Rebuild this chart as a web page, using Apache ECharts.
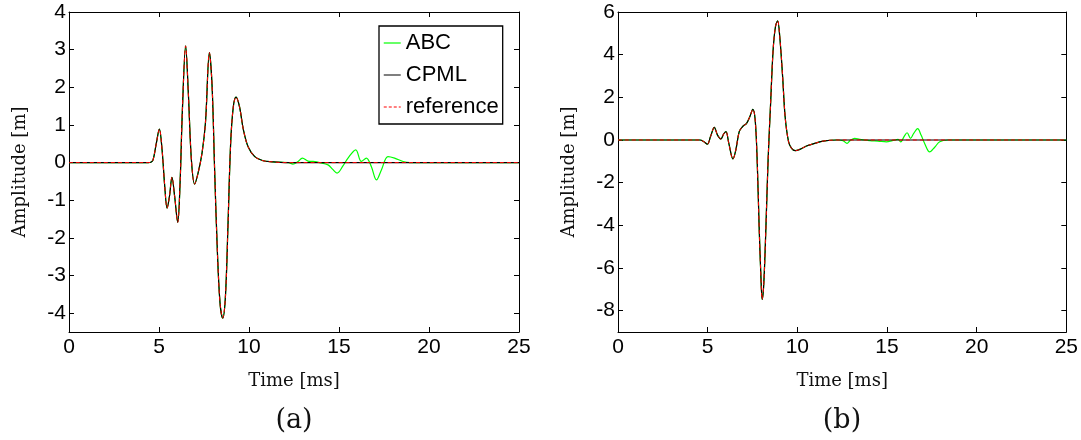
<!DOCTYPE html>
<html>
<head>
<meta charset="utf-8">
<script src="https://cdn.jsdelivr.net/npm/echarts@6/dist/echarts.min.js"></script>
<style>
html,body{margin:0;padding:0;background:#fff;}
#chart{width:1081px;height:440px;}
</style>
</head>
<body>
<div id="chart"></div>
<script>
// ---- Panel (a) ----
const tA = [0, 4.4, 4.55, 4.67, 4.85, 5.02, 5.17, 5.32, 5.45, 5.58, 5.72, 5.87, 6.04, 6.17, 6.30, 6.48, 6.63, 6.80, 6.98, 7.17, 7.39, 7.58, 7.80, 7.95, 8.09, 8.24, 8.39, 8.54, 8.69, 8.83, 8.98, 9.13, 9.28, 9.47, 9.69, 9.95, 10.32, 10.78, 11.3, 12, 25];
const cpmlA = [0, 0, 0.01, 0.07, 0.51, 0.89, 0.34, -0.64, -1.21, -0.90, -0.39, -0.90, -1.59, -0.55, 1.40, 3.10, 1.84, 0.07, -0.57, -0.28, 0.25, 1.05, 2.92, 2.02, -0.19, -2.32, -3.73, -4.13, -3.56, -1.70, 0.51, 1.49, 1.74, 1.49, 0.87, 0.42, 0.16, 0.05, 0.02, 0, 0];
const refA = [0, 0, 0.01, 0.07, 0.51, 0.89, 0.34, -0.64, -1.21, -0.90, -0.39, -0.90, -1.59, -0.55, 1.40, 3.10, 1.84, 0.07, -0.57, -0.28, 0.25, 1.05, 2.92, 2.02, -0.19, -2.32, -3.73, -4.13, -3.56, -1.70, 0.51, 1.49, 1.74, 1.49, 0.87, 0.42, 0.16, 0.05, 0.02, 0, 0];
const abcTailTA = [11.7, 12.2, 12.44, 12.7, 12.97, 13.28, 13.56, 13.93, 14.39, 14.65, 14.89, 15.22, 15.50, 15.93, 16.24, 16.52, 16.80, 17.08, 17.36, 17.72, 18.09, 18.56, 18.93, 25];
const abcTailA = [0.01, 0, -0.04, 0.02, 0.12, 0.04, 0.03, 0.0, -0.06, -0.18, -0.28, -0.09, 0.12, 0.34, 0.03, 0.12, -0.11, -0.46, -0.19, 0.16, 0.12, 0.03, 0, 0];
const yTicksA = [-4, -3, -2, -1, 0, 1, 2, 3, 4];

// ---- Panel (b) ----
const tB = [0, 4.57, 4.79, 4.98, 5.16, 5.37, 5.55, 5.74, 5.89, 6.02, 6.18, 6.41, 6.57, 6.76, 6.95, 7.17, 7.35, 7.52, 7.65, 7.76, 7.87, 7.97, 8.04, 8.13, 8.25, 8.37, 8.51, 8.65, 8.78, 8.90, 9.02, 9.18, 9.32, 9.51, 9.68, 9.88, 10.14, 10.51, 10.97, 11.44, 12.2, 25];
const cpmlB = [0, 0, -0.08, -0.20, 0.16, 0.59, 0.23, 0.05, 0.28, 0.39, -0.16, -0.89, -0.47, 0.39, 0.63, 0.78, 1.09, 1.44, 0.94, -0.94, -4.06, -6.41, -7.47, -6.72, -4.06, -0.94, 1.72, 4.22, 5.31, 5.59, 4.84, 2.97, 1.09, -0.08, -0.39, -0.50, -0.44, -0.28, -0.16, -0.05, 0, 0];
const refB = [0, 0, -0.08, -0.20, 0.16, 0.59, 0.23, 0.05, 0.28, 0.39, -0.16, -0.89, -0.47, 0.39, 0.63, 0.78, 1.09, 1.44, 0.94, -0.94, -4.06, -6.41, -7.47, -6.72, -4.06, -0.94, 1.72, 4.22, 5.31, 5.59, 4.84, 2.97, 1.09, -0.08, -0.39, -0.50, -0.44, -0.28, -0.16, -0.05, 0, 0];
const abcTailTB = [11.44, 12.2, 12.55, 12.77, 12.95, 13.20, 13.48, 14.04, 14.5, 14.97, 15.3, 15.62, 15.77, 15.95, 16.12, 16.31, 16.49, 16.71, 16.90, 17.10, 17.38, 17.66, 17.94, 18.4, 25];
const abcTailB = [-0.05, 0, -0.03, -0.16, -0.02, 0.08, 0.03, -0.03, -0.05, -0.09, -0.03, 0.03, -0.09, 0.16, 0.34, 0.08, 0.31, 0.53, 0.23, -0.16, -0.56, -0.34, -0.08, 0, 0];
const yTicksB = [-8, -6, -4, -2, 0, 2, 4, 6];

const seriesNames = ['ABC', 'CPML', 'reference'];
const panelLabels = ['(a)', '(b)'];
const xTitle = 'Time [ms]';
const yTitle = 'Amplitude [m]';

function pairs(t, v) { return t.map((x, i) => [x, v[i]]); }
function abcData(t, cpml, tailT, tail) {
  return pairs(t, cpml).filter(p => p[0] < tailT[0]).concat(pairs(tailT, tail));
}

const SANS = '"Liberation Sans", Arial, Helvetica, sans-serif';
const SERIF = '"DejaVu Serif", "Liberation Serif", serif';

const grids = [
  { left: 69, top: 12, width: 450, height: 320 },
  { left: 618, top: 12, width: 449, height: 320 }
];

function xAxes(gi) {
  const base = {
    gridIndex: gi, type: 'value', min: 0, max: 25, interval: 5,
    axisLine: { show: true, onZero: false, lineStyle: { color: '#000', width: 1 } },
    axisTick: { show: true, inside: true, length: 5, lineStyle: { color: '#000' } },
    splitLine: { show: false }
  };
  return [
    Object.assign({}, base, {
      position: 'bottom',
      axisLabel: { color: '#000', fontSize: 21, fontFamily: SANS, margin: 5 },
      name: xTitle, nameLocation: 'middle', nameGap: 40,
      nameTextStyle: { color: '#111', fontSize: 18, fontFamily: SERIF }
    }),
    Object.assign({}, base, { position: 'top', axisLabel: { show: false } })
  ];
}
function yAxes(gi, min, max, ticks, gap) {
  const base = {
    gridIndex: gi, type: 'value', min: min, max: max,
    axisLine: { show: true, onZero: false, lineStyle: { color: '#000', width: 1 } },
    axisTick: { show: true, inside: true, length: 5, customValues: ticks, lineStyle: { color: '#000' } },
    splitLine: { show: false }
  };
  return [
    Object.assign({}, base, {
      position: 'left',
      axisLabel: { color: '#000', fontSize: 21, fontFamily: SANS, margin: 3, customValues: ticks },
      name: yTitle, nameLocation: 'middle', nameGap: gap,
      nameTextStyle: { color: '#111', fontSize: 18, fontFamily: SERIF }
    }),
    Object.assign({}, base, { position: 'right', axisLabel: { show: false } })
  ];
}

function panelSeries(gi, t, cpml, ref, tailT, tail) {
  const xi = gi * 2, yi = gi * 2;
  return [
    { name: seriesNames[0], type: 'line', xAxisIndex: xi, yAxisIndex: yi, data: abcData(t, cpml, tailT, tail),
      smooth: 0.35, symbol: 'none', lineStyle: { color: '#00ff00', width: 1.2 }, itemStyle: { color: '#00ff00' } },
    { name: seriesNames[1], type: 'line', xAxisIndex: xi, yAxisIndex: yi, data: pairs(t, cpml),
      smooth: 0.35, symbol: 'none', lineStyle: { color: '#000000', width: 1.2 }, itemStyle: { color: '#555' } },
    { name: seriesNames[2], type: 'line', xAxisIndex: xi, yAxisIndex: yi, data: pairs(t, ref),
      smooth: 0.35, symbol: 'none', lineStyle: { color: '#ff0000', width: 1, type: [4, 3] }, itemStyle: { color: '#ff0000' } }
  ];
}

const chart = echarts.init(document.getElementById('chart'), null, { renderer: 'canvas' });
chart.setOption({
  animation: false,
  backgroundColor: '#fff',
  grid: grids,
  xAxis: xAxes(0).concat(xAxes(1)),
  yAxis: yAxes(0, -4.5, 4, yTicksA, 40).concat(yAxes(1, -9, 6, yTicksB, 40)),
  legend: {
    data: [
      { name: seriesNames[0], itemStyle: { opacity: 0 }, lineStyle: { color: '#00ff00', width: 1.2 } },
      { name: seriesNames[1], itemStyle: { opacity: 0 }, lineStyle: { color: '#555555', width: 1.5 } },
      { name: seriesNames[2], itemStyle: { opacity: 0 }, lineStyle: { color: '#ff0000', width: 1.2, type: [3, 2] } }
    ],
    orient: 'vertical', left: 379, top: 26,
    itemWidth: 17, itemHeight: 14, itemGap: 10,
    padding: [6, 4, 6, 4],
    borderColor: '#000', borderWidth: 1.3, backgroundColor: '#fff',
    textStyle: { color: '#000', fontSize: 22, fontFamily: SANS, lineHeight: 22 },
    selectedMode: false
  },
  graphic: [
    { type: 'text', x: 294, y: 421, style: { text: panelLabels[0], align: 'center', verticalAlign: 'middle', font: '27px "DejaVu Serif", serif', fill: '#111' } },
    { type: 'text', x: 842, y: 421, style: { text: panelLabels[1], align: 'center', verticalAlign: 'middle', font: '27px "DejaVu Serif", serif', fill: '#111' } }
  ],
  series: panelSeries(0, tA, cpmlA, refA, abcTailTA, abcTailA)
    .concat(panelSeries(1, tB, cpmlB, refB, abcTailTB, abcTailB))
});
</script>
</body>
</html>
